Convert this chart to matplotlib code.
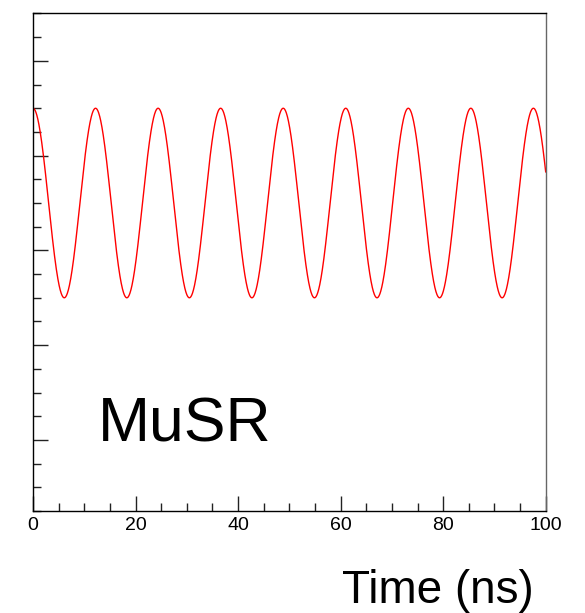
import numpy as np
import matplotlib
matplotlib.use("Agg")
import matplotlib.pyplot as plt
from matplotlib.ticker import MultipleLocator, FixedLocator

plt.rcParams['font.family'] = ['Liberation Sans', 'DejaVu Sans']

# muon spin precession signal
t_range = [0, 100]          # ns
amplitude = 1.0             # arbitrary units
period = 12.2               # ns
offset = 0.0
x_ticks = [0, 20, 40, 60, 80, 100]
y_major = [-2.5, -1.5, -0.5, 0.5, 1.5]
y_range = [-3.25, 2.0]

t = np.linspace(t_range[0], t_range[1], 2000)
signal = offset + amplitude*np.cos(2*np.pi*t/period)

fig = plt.figure(figsize=(5.85, 6.13), dpi=100)
ax = fig.add_axes([0.0564, 0.1664, 0.8764, 0.8116])
ax.plot(t, signal, color='red', lw=1.0)

ax.set_xlim(t_range)
ax.set_ylim(y_range)
ax.xaxis.set_major_locator(FixedLocator(x_ticks))
ax.xaxis.set_minor_locator(MultipleLocator(5))
ax.yaxis.set_major_locator(FixedLocator(y_major))
ax.yaxis.set_minor_locator(MultipleLocator(0.25))
ax.tick_params(which='both', direction='in', top=False, right=False, width=1.0, color='#222222')
ax.tick_params(which='major', length=11)
ax.tick_params(which='minor', length=5.5)
ax.tick_params(axis='x', labelsize=14, pad=4)
ax.tick_params(axis='y', labelleft=False)
for s in ax.spines.values():
    s.set_linewidth(1.0)
ax.spines['right'].set_color('#666666')

fig.text(98/585, 1-442/613, 'MuSR', fontsize=45, ha='left', va='baseline')
fig.text(534/585, 1-603/613, 'Time (ns)', fontsize=33, ha='right', va='baseline')

fig.savefig('out.png', dpi=100)
